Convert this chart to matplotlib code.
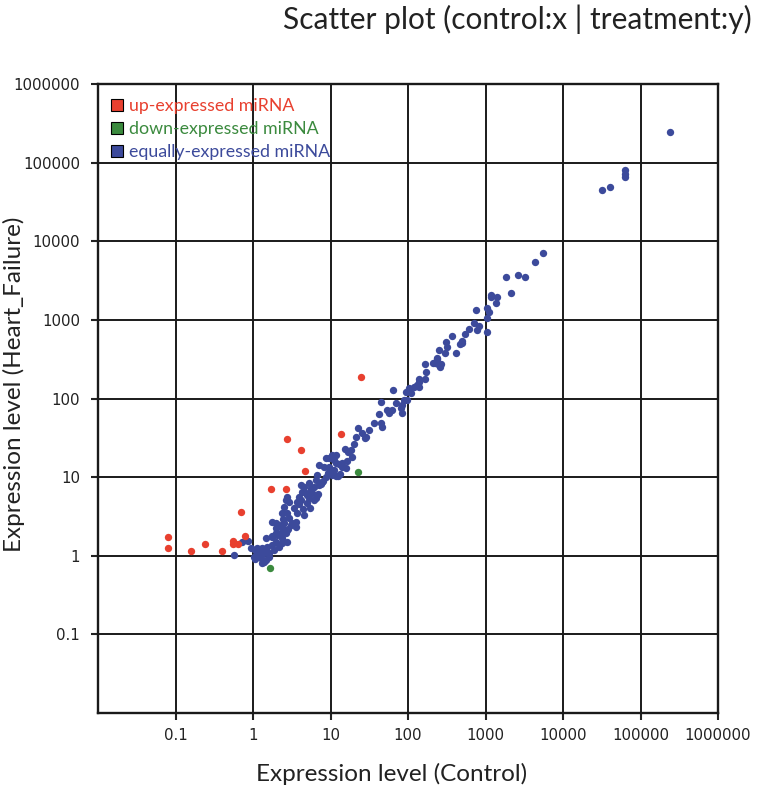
import matplotlib
matplotlib.use('Agg')
import matplotlib.pyplot as plt
from matplotlib.lines import Line2D

# up-expressed miRNA (red)
up_ctrl = [0.0805, 0.0805, 0.159, 0.241, 0.40, 0.553, 0.553, 0.641, 0.789, 0.701,
           1.71, 2.66, 4.67, 4.15, 2.74, 13.6, 24.5]
up_treat = [1.75, 1.26, 1.16, 1.42, 1.16, 1.55, 1.42, 1.42, 1.80, 3.63,
            7.12, 7.12, 12.1, 22.3, 30.8, 35.7, 189]

# down-expressed miRNA (green)
down_ctrl = [1.66, 22.5]
down_treat = [0.70, 11.7]

# equally-expressed miRNA (blue)
eq_ctrl = [0.569, 0.722, 0.862, 0.942, 1.06, 1.03, 1.13, 1.27, 1.31, 1.47,
           1.61, 1.86, 2.16, 1.76, 2.36, 2.51, 1.98, 2.36, 2.51, 2.66,
           9.23, 11.7, 7.07, 6.10, 6.66, 5.58, 4.53, 4.15, 4.81, 5.26,
           6.47, 4.15, 4.95, 2.91, 3.68, 3.37, 3.68, 2.74, 2.91, 3.58,
           3.08, 2.51, 2.16, 2.36, 2.74, 2.29, 1.98, 4.53, 3.58, 1.76,
           1.98, 2.66, 1.76, 1.98, 2.36, 1.47, 1.51, 2.74, 1.31, 1.13,
           1.39, 1.61, 1.19, 1.39, 0.813,
           27.6, 8.70, 11.7, 11.0, 7.07, 8.20, 15.7, 9.51, 8.70, 6.66,
           7.73, 6.47, 5.26, 5.58, 4.27, 5.75, 4.95, 2.74, 3.91,
           323, 248, 296, 410, 233, 220, 164, 248, 169, 164,
           137, 129, 118, 102, 137, 108, 93.1, 63.4, 87.8, 95.9,
           82.7, 69.2, 80.3, 61.5, 53.1, 44.4, 56.2, 41.9, 82.7, 36.1,
           44.4, 45.7, 25.3, 28.5, 22.5, 21.2, 19.9, 18.2, 18.8, 15.3,
           16.2, 14.0, 11.7, 10.4, 9.51, 14.0, 11.0, 10.4, 9.51, 12.4,
           5560, 4390, 2650, 3260, 1860, 2150, 1190, 1420, 1160, 1380,
           1030, 764, 1120, 1030, 720, 835, 787, 1060, 603, 551,
           490, 504, 475, 364, 305, 240, 263, 213, 255, 137,
           240000, 63100, 63100, 63100, 40500, 32000,
           1.20, 1.45, 2.05, 2.45, 3.20, 3.90, 5.40, 6.90, 8.00, 12.9,
           1.05, 1.75, 2.85, 4.40, 6.20, 7.60, 9.90, 13.1, 17.0, 31.0]
eq_treat = [1.03, 1.51, 1.55, 1.26, 1.19, 0.97, 1.09, 0.94, 0.81, 0.89,
            0.97, 1.19, 1.30, 1.38, 1.69, 2.14, 2.63, 3.52, 4.20, 5.16,
            11.4, 10.4, 8.0, 7.55, 5.97, 6.91, 7.55, 8.0, 6.33, 5.47,
            5.47, 5.16, 4.72, 4.86, 4.86, 4.08, 3.52, 3.52, 3.04, 2.71,
            2.48, 2.63, 2.48, 2.27, 2.14, 1.96, 2.27, 3.32, 2.34, 2.71,
            1.96, 1.96, 1.75, 1.51, 1.46, 1.69, 1.30, 1.51, 1.26, 1.26,
            1.09, 1.09, 1.03, 0.84, 1.60,
            31.7, 17.7, 19.3, 16.6, 14.4, 13.6, 13.2, 11.7, 10.1, 10.7,
            8.74, 9.27, 8.49, 7.33, 6.52, 6.33, 5.97, 5.63, 5.63,
            456, 418, 383, 383, 330, 285, 277, 269, 219, 179,
            164, 150, 141, 137, 141, 119, 122, 129, 96.6, 96.6,
            83.4, 88.5, 76.4, 72.1, 72.1, 91.0, 65.9, 64.1, 65.9, 49.2,
            49.2, 43.8, 36.7, 32.7, 42.5, 32.7, 26.6, 22.3, 18.2, 23.0,
            16.2, 15.2, 15.2, 19.3, 17.7, 13.6, 12.4, 10.7, 13.6, 10.4,
            7160, 5500, 3760, 3550, 3550, 2220, 2090, 1970, 1970, 1660,
            1430, 1350, 1270, 1070, 921, 844, 750, 708, 773, 667,
            544, 513, 498, 630, 528, 321, 277, 285, 254, 179,
            248000, 81500, 72400, 66400, 49500, 45300,
            1.15, 1.20, 1.85, 2.90, 2.60, 4.50, 4.10, 6.10, 8.90, 14.8,
            0.92, 1.80, 2.20, 3.90, 5.10, 8.30, 12.8, 11.0, 21.0, 40.0]

ticks = [0.1, 1, 10, 100, 1000, 10000, 100000, 1000000]
tick_labels = ['0.1', '1', '10', '100', '1000', '10000', '100000', '1000000']

RED = '#e8402f'
GREEN = '#3b8a3e'
BLUE = '#3c4a9b'
LABEL_FONT = ['Lato', 'DejaVu Sans']

fig = plt.figure(figsize=(7.58, 7.89), dpi=100)
ax = fig.add_axes([0.1293, 0.0963, 0.818, 0.797])

ax.scatter(eq_ctrl, eq_treat, s=28, color=BLUE, linewidths=0, zorder=3)
ax.scatter(up_ctrl, up_treat, s=28, color=RED, linewidths=0, zorder=3)
ax.scatter(down_ctrl, down_treat, s=28, color=GREEN, linewidths=0, zorder=3)

ax.set_xscale('log')
ax.set_yscale('log')
ax.set_xlim(0.01, 1000000)
ax.set_ylim(0.01, 1000000)
ax.set_xticks(ticks)
ax.set_xticklabels(tick_labels)
ax.set_yticks(ticks)
ax.set_yticklabels(tick_labels)
ax.minorticks_off()
ax.tick_params(axis='both', direction='out', length=5, width=1.5, color='#222222',
               labelsize=10.8, labelcolor='#222222', pad=6)
ax.tick_params(axis='y', pad=8)
ax.grid(True, color='#1a1a1a', linewidth=1.4, zorder=1)
ax.set_axisbelow(True)
for side in ['left', 'bottom', 'top', 'right']:
    ax.spines[side].set_linewidth(1.7)
    ax.spines[side].set_color('#1a1a1a')

handles = [
    Line2D([], [], linestyle='none', marker='s', markersize=8.5,
           markerfacecolor=RED, markeredgecolor='black', markeredgewidth=0.8),
    Line2D([], [], linestyle='none', marker='s', markersize=8.5,
           markerfacecolor=GREEN, markeredgecolor='black', markeredgewidth=0.8),
    Line2D([], [], linestyle='none', marker='s', markersize=8.5,
           markerfacecolor=BLUE, markeredgecolor='black', markeredgewidth=0.8),
]
leg = ax.legend(handles, ['up-expressed miRNA', 'down-expressed miRNA',
                          'equally-expressed miRNA'],
                loc='upper left', bbox_to_anchor=(-0.006, 1.003), frameon=False,
                handlelength=0.8, handletextpad=0.25, labelspacing=0.38,
                borderaxespad=0.5, prop={'family': LABEL_FONT, 'size': 12.8})
for txt, col in zip(leg.get_texts(), [RED, GREEN, BLUE]):
    txt.set_color(col)

fig.text(0.992, 0.975, 'Scatter plot (control:x | treatment:y)', ha='right',
         va='center', fontsize=21.5, family=LABEL_FONT, color='#222222')
fig.text(0.517, 0.019, 'Expression level (Control)', ha='center', va='center',
         fontsize=17.5, family=LABEL_FONT, color='#222222')
fig.text(0.019, 0.513, 'Expression level (Heart_Failure)', ha='center', va='center',
         rotation=90, fontsize=17.5, family=LABEL_FONT, color='#222222')

fig.savefig('out.png', dpi=100)
